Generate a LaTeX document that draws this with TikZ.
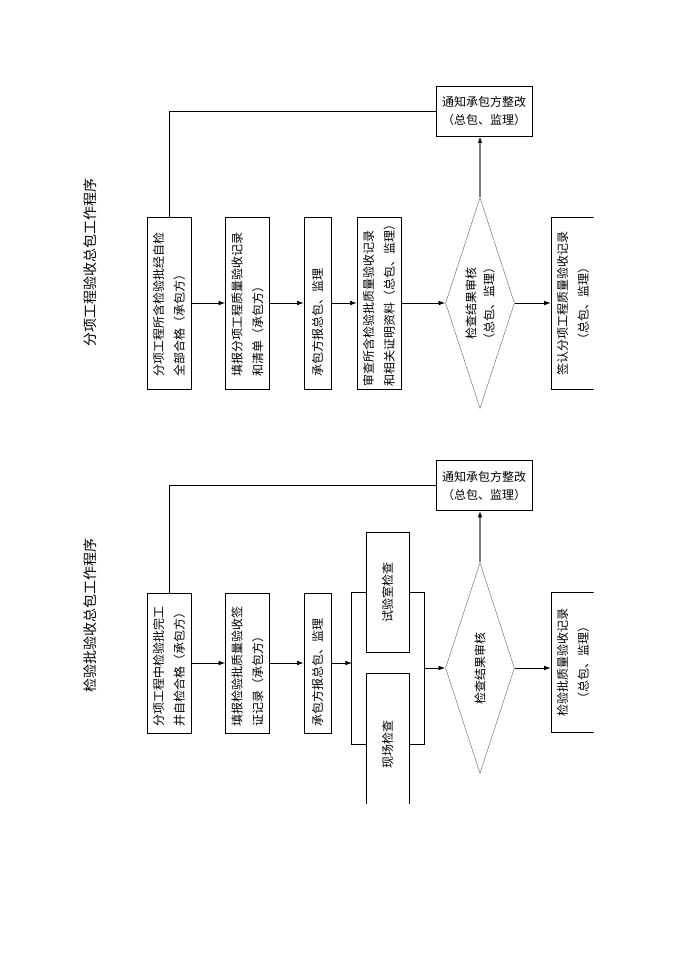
\documentclass[tikz,border=0pt]{standalone}
\usepackage{fontspec}
\setmainfont{Noto Sans CJK SC}
\usetikzlibrary{shapes.geometric,arrows.meta}
\definecolor{flowgray}{RGB}{125,125,125}

\tikzset{
  stepbox/.style={draw, rotate=90, align=left, inner sep=2pt, minimum height=33pt, minimum width=129pt, text width=110pt, font=\fontsize{9}{15.5}\selectfont},
  midbox/.style={stepbox, align=center},
  notebox/.style={draw, align=center, minimum width=72pt, minimum height=37.5pt, font=\fontsize{9}{13.5}\selectfont},
  checkshape/.style={draw=flowgray, diamond, inner sep=0pt, minimum width=51.75pt, minimum height=158pt},
  checktext/.style={rotate=90, align=center, font=\fontsize{9}{13.5}\selectfont},
  titletext/.style={rotate=90, font=\fontsize{10.5}{12}\selectfont},
  flowline/.style={line width=0.6pt},
  flowarrow/.style={line width=0.6pt, -{Latex[length=5pt,width=3.5pt]}},
  grayarrow/.style={line width=1pt, draw=flowgray, -{Latex[length=5pt,width=3.5pt,color=black]}}
}

\begin{document}
\begin{tikzpicture}[x=0.75pt, y=-0.75pt]
\useasboundingbox (0,0) rectangle (690,975);
\clip (0,0) rectangle (593.5,803.5);

% upper chart
\node[titletext] (atitle) at (90,262) {分项工程验收总包工作程序};

\node[stepbox] (a1) at (169,303) {分项工程所含检验批经自检\\全部合格（承包方）};
\node[stepbox] (a2) at (247.5,303) {填报分项工程质量验收记录\\和清单（承包方）};
\node[stepbox, minimum height=20.25pt] (a3) at (317.5,303) {承包方报总包、监理};
\node[stepbox, text width=125pt] (a4) at (379,303) {审查所含检验批质量验收记录\\和相关证明资料（总包、监理）};
\node[checkshape] (achk) at (480,303) {};
\node[checktext] at (achk) {检查结果审核\\（总包、监理）};
\node[midbox] (asign) at (573,303) {签认分项工程质量验收记录\\（总包、监理）};
\node[notebox] (anote) at (484,111) {通知承包方整改\\（总包、监理）};

\draw[flowarrow] (a1.south) -- (a2.north);
\draw[flowarrow] (a2.south) -- (a3.north);
\draw[flowarrow] (a3.south) -- (a4.north);
\draw[flowarrow] (a4.south) -- (achk.west);
\draw[flowarrow] (achk.east) -- (asign.north);
\draw[grayarrow] (achk.north) -- (achk.north |- anote.south);
\draw[flowline] (a1.east) |- (anote.west);

% lower chart
\node[titletext] (btitle) at (90,615) {检验批验收总包工作程序};

\node[stepbox, minimum width=105pt, text width=95pt] (b1) at (169,663) {分项工程中检验批完工\\并自检合格（承包方）};
\node[stepbox, minimum width=105pt, text width=95pt] (b2) at (247.5,663) {填报检验批质量验收签\\证记录（承包方）};
\node[stepbox, minimum width=105pt, text width=95pt, minimum height=20.25pt] (b3) at (317.5,663) {承包方报总包、监理};
\node[midbox, minimum width=90pt, minimum height=32.25pt, text width=80pt] (blab) at (387.5,592) {试验室检查};
\node[midbox, minimum width=106.5pt, minimum height=32.25pt, text width=80pt] (bsite) at (387.5,744) {现场检查};
\node[checkshape] (bchk) at (480,668) {};
\node[checktext] at (bchk) {检查结果审核};
\node[midbox, minimum width=105pt, text width=95pt] (brec) at (573,662.5) {检验批质量验收记录\\（总包、监理）};
\node[notebox] (bnote) at (484,485.5) {通知承包方整改\\（总包、监理）};

\coordinate (bjoin) at (352,663);
\coordinate (bout) at (424,668);

\draw[flowarrow] (b1.south) -- (b2.north);
\draw[flowarrow] (b2.south) -- (b3.north);
\draw[flowarrow] (b3.south) -- (bjoin);
\draw[flowline] (blab.north) -- ++(-14,0) |- (bsite.north);
\draw[flowline] (blab.south) -- ++(15,0) |- (bsite.south);
\draw[flowarrow] (bout) -- (bchk.west);
\draw[flowarrow] (bchk.east) -- (bchk.east -| brec.north);
\draw[grayarrow] (bchk.north) -- (bchk.north |- bnote.south);
\draw[flowline] (b1.east) |- (bnote.west);
\end{tikzpicture}
\end{document}
